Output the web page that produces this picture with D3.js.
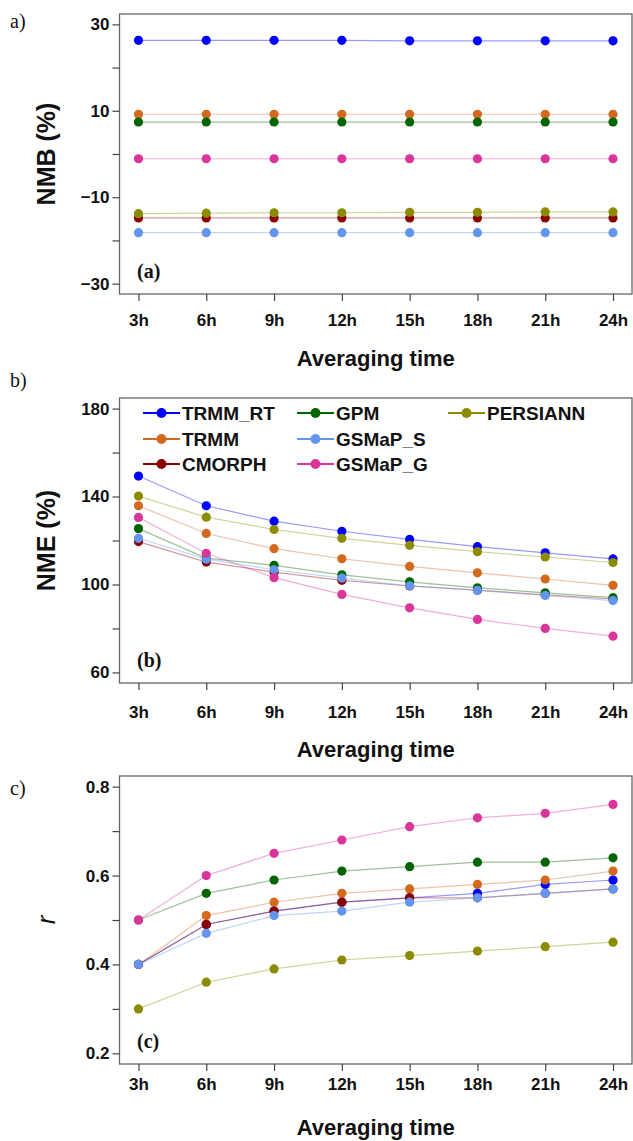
<!DOCTYPE html>
<html>
<head>
<meta charset="utf-8">
<script src="https://cdn.jsdelivr.net/npm/d3@7"></script>
<style>
  body { margin: 0; background: #fff; }
  svg { display: block; }
</style>
</head>
<body>
<div id="chart"></div>
<script>
// averaging windows
var hours = [3, 6, 9, 12, 15, 18, 21, 24];
var hourLabels = ["3h", "6h", "9h", "12h", "15h", "18h", "21h", "24h"];

// products, in drawing order
var products = ["TRMM_RT", "TRMM", "CMORPH", "GPM", "GSMaP_S", "GSMaP_G", "PERSIANN"];
var colors = ["#0000ff", "#d2691e", "#8b0000", "#006400", "#6495ed", "#d9359a", "#8b8b00"];

// (a) NMB (%)
var nmb = [
	[26.3, 26.3, 26.3, 26.3, 26.2, 26.2, 26.2, 26.2],
	[9.2, 9.2, 9.2, 9.2, 9.2, 9.2, 9.2, 9.2],
	[-14.8, -14.8, -14.8, -14.8, -14.8, -14.8, -14.8, -14.8],
	[7.4, 7.4, 7.4, 7.4, 7.4, 7.4, 7.4, 7.4],
	[-18.2, -18.2, -18.2, -18.2, -18.2, -18.2, -18.2, -18.2],
	[-1.1, -1.1, -1.1, -1.1, -1.1, -1.1, -1.1, -1.1],
	[-13.8, -13.7, -13.6, -13.6, -13.5, -13.5, -13.4, -13.4]
];

// (b) NME (%)
var nme = [
	[149.3, 135.8, 128.8, 124.2, 120.5, 117.2, 114.4, 111.6],
	[135.8, 123.2, 116.3, 111.7, 108.2, 105.3, 102.5, 99.6],
	[119.5, 110.2, 105.6, 101.9, 99.3, 97.4, 95.3, 93.4],
	[125.4, 112.0, 108.7, 104.4, 101.2, 98.5, 96.2, 94.0],
	[121.0, 111.5, 106.7, 102.9, 99.4, 97.3, 95.0, 92.7],
	[130.5, 114.2, 103.1, 95.5, 89.4, 84.1, 80.0, 76.5],
	[140.2, 130.6, 125.0, 121.0, 117.8, 114.9, 112.5, 110.0]
];

// (c) correlation r
var corr = [
	[0.40, 0.49, 0.52, 0.54, 0.55, 0.56, 0.58, 0.59],
	[0.40, 0.51, 0.54, 0.56, 0.57, 0.58, 0.59, 0.61],
	[0.40, 0.49, 0.52, 0.54, 0.55, 0.55, 0.56, 0.57],
	[0.50, 0.56, 0.59, 0.61, 0.62, 0.63, 0.63, 0.64],
	[0.40, 0.47, 0.51, 0.52, 0.54, 0.55, 0.56, 0.57],
	[0.50, 0.60, 0.65, 0.68, 0.71, 0.73, 0.74, 0.76],
	[0.30, 0.36, 0.39, 0.41, 0.42, 0.43, 0.44, 0.45]
];

var nmbTicks = [-30, -20, -10, 0, 10, 20, 30];
var nmbLabels = [-30, -10, 10, 30];
var nmeTicks = [60, 80, 100, 120, 140, 160, 180];
var nmeLabels = [60, 100, 140, 180];
var corrTicks = [0.2, 0.3, 0.4, 0.5, 0.6, 0.7, 0.8];
var corrLabels = [0.2, 0.4, 0.6, 0.8];

var width = 633, height = 1141;
var sans = "'Liberation Sans', Arial, sans-serif";
var serif = "'Liberation Serif', 'Times New Roman', serif";

var svg = d3.select("#chart").append("svg")
	.attr("width", width)
	.attr("height", height);

// R-style 4% padding round the data range
var left = 119.5, right = 632;
var x = d3.scaleLinear().domain([3 - 0.84, 24 + 0.84]).range([left, right]);

var panels = [
	{ letter: "a)", tag: "(a)", data: nmb, ticks: nmbTicks, labels: nmbLabels, lim: [-30, 30],
	  top: 14, bottom: 294, title: "NMB (%)", fmt: d3.format("d"),
	  letterY: 21, tickY: 320, xTitleY: 358, legend: false },
	{ letter: "b)", tag: "(b)", data: nme, ticks: nmeTicks, labels: nmeLabels, lim: [60, 180],
	  top: 398, bottom: 683, title: "NME (%)", fmt: d3.format("d"),
	  letterY: 380, tickY: 712, xTitleY: 749, legend: true },
	{ letter: "c)", tag: "(c)", data: corr, ticks: corrTicks, labels: corrLabels, lim: [0.2, 0.8],
	  top: 776, bottom: 1064, title: "r", fmt: d3.format(".1f"),
	  letterY: 788, tickY: 1084, xTitleY: 1127, legend: false }
];

panels.forEach(function(p) {
	var pad = (p.lim[1] - p.lim[0]) * 0.04;
	var y = d3.scaleLinear()
		.domain([p.lim[0] - pad, p.lim[1] + pad])
		.range([p.bottom, p.top]);

	var g = svg.append("g");

	// plot frame
	g.append("rect")
		.attr("x", left).attr("y", p.top)
		.attr("width", right - left).attr("height", p.bottom - p.top)
		.attr("fill", "none")
		.attr("stroke", "#666")
		.attr("stroke-width", 1.3);

	// y axis
	var yAxis = d3.axisLeft(y)
		.tickValues(p.ticks)
		.tickSize(7)
		.tickFormat(function(d) {
			return p.labels.some(function(v) { return Math.abs(v - d) < 1e-9; }) ? p.fmt(d) : "";
		});
	var ya = g.append("g").attr("transform", "translate(" + left + ",0)").call(yAxis);
	ya.select(".domain").remove();
	ya.selectAll(".tick line").attr("stroke", "#444").attr("stroke-width", 1.2);
	ya.selectAll(".tick text")
		.attr("x", -10)
		.attr("fill", "#111")
		.style("font-family", sans)
		.style("font-weight", "bold")
		.style("font-size", "17px");

	// x axis
	var xAxis = d3.axisBottom(x)
		.tickValues(hours)
		.tickSize(7)
		.tickFormat(function(d, i) { return hourLabels[i]; });
	var xa = g.append("g").attr("transform", "translate(0," + p.bottom + ")").call(xAxis);
	xa.select(".domain").remove();
	xa.selectAll(".tick line").attr("stroke", "#444").attr("stroke-width", 1.2);
	xa.selectAll(".tick text")
		.attr("y", p.tickY - p.bottom)
		.attr("dy", "0.35em")
		.attr("fill", "#111")
		.style("font-family", sans)
		.style("font-weight", "bold")
		.style("font-size", "17px");

	// axis titles
	g.append("text")
		.attr("x", (left + right) / 2)
		.attr("y", p.xTitleY)
		.attr("dy", "0.35em")
		.attr("text-anchor", "middle")
		.style("font-family", sans)
		.style("font-weight", "bold")
		.style("font-size", "22px")
		.attr("fill", "#111")
		.text("Averaging time");

	var yt = g.append("text")
		.attr("transform", "translate(46," + (p.top + p.bottom) / 2 + ") rotate(-90)")
		.attr("dy", "0.35em")
		.attr("text-anchor", "middle")
		.style("font-family", sans)
		.attr("fill", "#111")
		.text(p.title);
	if (p.title == "r") {
		yt.style("font-style", "italic").style("font-size", "26px");
	} else {
		yt.style("font-weight", "bold").style("font-size", "25px");
	}

	// panel letters
	g.append("text")
		.attr("x", 10).attr("y", p.letterY)
		.attr("dy", "0.35em")
		.style("font-family", serif)
		.style("font-size", "20px")
		.attr("fill", "#111")
		.text(p.letter);

	g.append("text")
		.attr("x", 137).attr("y", p.bottom - 16)
		.style("font-family", serif)
		.style("font-weight", "bold")
		.style("font-size", "20px")
		.attr("fill", "#111")
		.text(p.tag);

	// series
	var line = d3.line()
		.x(function(d, i) { return x(hours[i]); })
		.y(function(d) { return y(d); });

	p.data.forEach(function(vals, k) {
		g.append("path")
			.datum(vals)
			.attr("d", line)
			.attr("fill", "none")
			.attr("stroke", colors[k])
			.attr("stroke-opacity", 0.4)
			.attr("stroke-width", 1.2);
	});

	p.data.forEach(function(vals, k) {
		g.selectAll(null)
			.data(vals)
			.enter().append("circle")
			.attr("cx", function(d, i) { return x(hours[i]); })
			.attr("cy", function(d) { return y(d); })
			.attr("r", 4.6)
			.attr("fill", colors[k]);
	});

	if (p.legend) {
		// three columns, filled column by column
		var colX = [143, 297, 448];
		var rowY = [413, 439, 464];
		var slots = [[0, 0], [0, 1], [0, 2], [1, 0], [1, 1], [1, 2], [2, 0]];
		var leg = g.append("g");
		products.forEach(function(name, k) {
			var cx = colX[slots[k][0]], cy = rowY[slots[k][1]];
			leg.append("line")
				.attr("x1", cx).attr("x2", cx + 37)
				.attr("y1", cy).attr("y2", cy)
				.attr("stroke", colors[k])
				.attr("stroke-width", 2);
			leg.append("circle")
				.attr("cx", cx + 18.5).attr("cy", cy)
				.attr("r", 5)
				.attr("fill", colors[k]);
			leg.append("text")
				.attr("x", cx + 39).attr("y", cy)
				.attr("dy", "0.36em")
				.style("font-family", sans)
				.style("font-weight", "bold")
				.style("font-size", "19px")
				.attr("fill", "#111")
				.text(name);
		});
	}
});
</script>
</body>
</html>
